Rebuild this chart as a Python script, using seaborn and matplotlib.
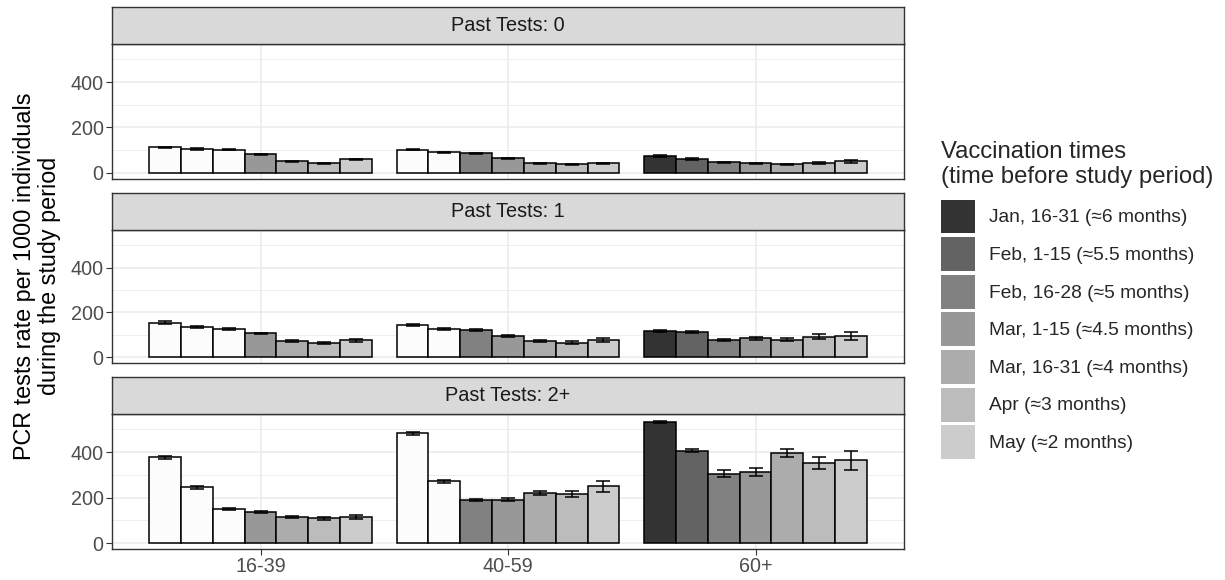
import numpy as np
import pandas as pd
import matplotlib
matplotlib.use("Agg")
import matplotlib.pyplot as plt
from matplotlib.patches import Patch
from matplotlib.ticker import MultipleLocator
import seaborn as sns

# ---- data -------------------------------------------------------------
age_groups = ["16-39", "40-59", "60+"]
periods = [
    "Jan, 16-31 (≈6 months)",
    "Feb, 1-15 (≈5.5 months)",
    "Feb, 16-28 (≈5 months)",
    "Mar, 1-15 (≈4.5 months)",
    "Mar, 16-31 (≈4 months)",
    "Apr (≈3 months)",
    "May (≈2 months)",
]
past_tests = ["0", "1", "2+"]

# PCR test rate per 1000 (ordered: age group, then vaccination period)
rate_pt0 = [111, 104, 101, 80, 50, 41, 58,
            102, 89, 85, 63, 41, 37, 41,
            74, 60, 45, 41, 37, 41, 50]
err_pt0 = [4, 3, 3, 3, 3, 3, 4,
           3, 3, 3, 3, 3, 3, 3,
           3, 3, 3, 3, 3, 4, 6]
rate_pt1 = [154, 134, 125, 106, 73, 62, 75,
            145, 126, 122, 95, 73, 65, 78,
            117, 113, 76, 84, 78, 91, 95]
err_pt1 = [6, 4, 5, 3, 4, 4, 8,
           4, 4, 5, 4, 4, 6, 8,
           3, 3, 4, 6, 6, 12, 18]
rate_pt2 = [377, 245, 151, 136, 113, 109, 116,
            483, 272, 189, 191, 220, 215, 249,
            532, 407, 305, 312, 397, 353, 364]
err_pt2 = [6, 6, 5, 5, 4, 6, 8,
           6, 6, 6, 6, 8, 13, 25,
           5, 6, 16, 17, 18, 26, 41]

# first vaccination period each age group was eligible for
first_eligible = [3, 2, 0]

rates = [rate_pt0, rate_pt1, rate_pt2]
errors = [err_pt0, err_pt1, err_pt2]

rows = []
for pt, r, e in zip(past_tests, rates, errors):
    k = 0
    for age in age_groups:
        for per in periods:
            rows.append({"past": pt, "age": age, "period": per,
                         "rate": r[k], "err": e[k]})
            k += 1
df = pd.DataFrame(rows)

# ---- style ------------------------------------------------------------
sns.set_style("white")
plt.rcParams["font.family"] = ["Liberation Sans", "DejaVu Sans"]

greys = ["#333333", "#636363", "#818181", "#989898",
         "#acacac", "#bcbcbc", "#cccccc"]
palette = dict(zip(periods, greys))
blank = "#fcfcfc"
grid_c = "#ebebeb"
border_c = "#333333"
tick_fs = 14.2

W, H = 1225, 580
fig = plt.figure(figsize=(W / 100, H / 100), dpi=100)

left_px, right_px = 112, 904
panels_px = [(7, 44, 178.5), (193, 230, 363), (377, 414, 549)]


def fx(px):
    return px / W


def fy(py):
    return 1 - py / H


for i, (pt, (s_top, p_top, p_bot)) in enumerate(zip(past_tests, panels_px)):
    ax = fig.add_axes([fx(left_px), fy(p_bot), fx(right_px - left_px),
                       (p_bot - p_top) / H])
    sub = df[df["past"] == pt]
    sns.barplot(data=sub, x="age", y="rate", hue="period",
                order=age_groups, hue_order=periods, palette=palette,
                edgecolor="black", linewidth=1.1, errorbar=None,
                width=0.9, saturation=1, legend=False, ax=ax, zorder=3)

    bar_groups = list(ax.containers)
    for h, cont in enumerate(bar_groups):
        for j, bar in enumerate(cont):
            if h < first_eligible[j]:
                bar.set_facecolor(blank)
            row = sub[(sub["age"] == age_groups[j]) &
                      (sub["period"] == periods[h])].iloc[0]
            xc = bar.get_x() + bar.get_width() / 2
            ax.errorbar(xc, bar.get_height(), yerr=row["err"],
                        color="black", elinewidth=1.1, capsize=5,
                        capthick=1.1, zorder=4)

    ax.set_xlim(-0.6, 2.6)
    ax.set_ylim(-26, 568)
    ax.set_yticks([0, 200, 400])
    ax.yaxis.set_minor_locator(MultipleLocator(100))
    ax.grid(True, which="major", axis="both", color=grid_c, linewidth=1.1)
    ax.grid(True, which="minor", axis="y", color=grid_c, linewidth=0.6)
    ax.set_axisbelow(True)
    ax.set_xlabel("")
    ax.set_ylabel("")
    for sp in ax.spines.values():
        sp.set_color(border_c)
        sp.set_linewidth(1.0)
    ax.tick_params(axis="y", which="major", length=4, width=0.8,
                   color=border_c, labelsize=tick_fs, labelcolor="#4d4d4d",
                   pad=2, left=True)
    ax.tick_params(axis="y", which="minor", length=0)
    if i == len(past_tests) - 1:
        ax.tick_params(axis="x", length=4, width=0.8, color=border_c,
                       labelsize=tick_fs, labelcolor="#4d4d4d", pad=2,
                       bottom=True)
    else:
        ax.tick_params(axis="x", length=0, labelbottom=False)

    sax = fig.add_axes([fx(left_px), fy(p_top), fx(right_px - left_px),
                        (p_top - s_top) / H])
    sax.set_facecolor("#d9d9d9")
    sax.set_xticks([])
    sax.set_yticks([])
    for sp in sax.spines.values():
        sp.set_color(border_c)
        sp.set_linewidth(1.0)
    sax.text(0.5, 0.5, f"Past Tests: {pt}", ha="center", va="center",
             fontsize=14.3, color="#1a1a1a", transform=sax.transAxes)

fig.text(fx(37), fy(276),
         "PCR tests rate per 1000 individuals\nduring the study period",
         rotation=90, ha="center", va="center", ma="center",
         fontsize=16.8, color="black", linespacing=1.1)

handles = [Patch(facecolor=c, edgecolor="none") for c in greys]
leg = fig.legend(handles, periods, loc="upper left",
                 bbox_to_anchor=(fx(941), fy(141)), frameon=False,
                 title="Vaccination times\n(time before study period)",
                 title_fontsize=17.2, fontsize=13.8, borderpad=0,
                 borderaxespad=0, handlelength=1.77, handleheight=2.35,
                 labelspacing=0.19, handletextpad=0.75, alignment="left")
leg._legend_box.sep = 8

fig.savefig("out.png", dpi=100)
